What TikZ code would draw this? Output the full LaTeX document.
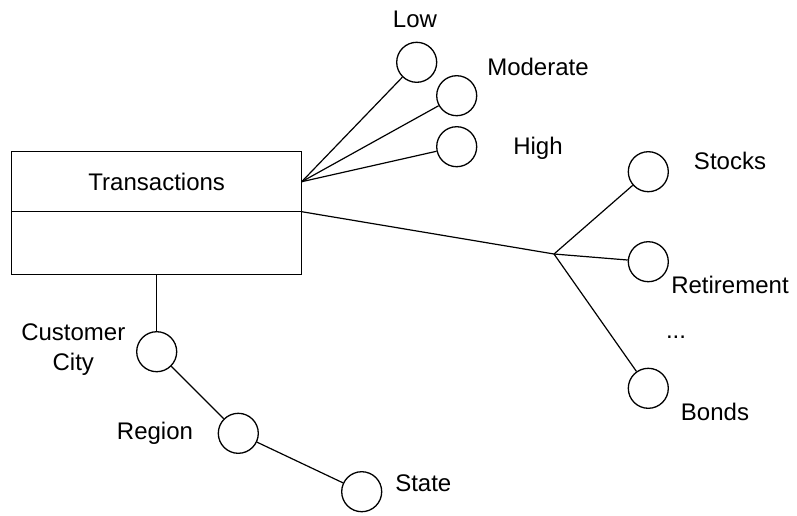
\documentclass[tikz,border=0pt]{standalone}
\usepackage{fontspec}
\setmainfont{Liberation Sans}
\begin{document}
\begin{tikzpicture}[x=1pt,y=-1pt,
  every node/.style={font=\fontsize{24}{30}\selectfont},
  attr/.style={draw, circle, minimum size=40pt, inner sep=0pt, line width=1.3pt},
  box/.style={draw, rectangle, minimum width=290pt, inner sep=0pt, outer sep=0pt, line width=1.3pt},
  link/.style={line width=1.2pt},
  lbl/.style={inner sep=0pt, anchor=center, align=center}]
\useasboundingbox (0,0) rectangle (797,515);

% entity box with header and empty body
\node[box, minimum height=60pt] (trans) at (156.7,181.7) {Transactions};
\node[box, minimum height=62.6pt, anchor=north] (transbody) at (trans.south) {};

% attribute circles
\node[attr] (low) at (416.7,62.3) {};
\node[attr] (mod) at (456.7,95.7) {};
\node[attr] (high) at (456.7,146.7) {};
\node[attr] (stocks) at (648.3,171.7) {};
\node[attr] (ret) at (648.3,261.7) {};
\node[attr] (bonds) at (648.3,388.3) {};
\node[attr] (city) at (156.7,351.7) {};
\node[attr] (region) at (238.3,433.3) {};
\node[attr] (state) at (361.7,491.7) {};

% labels
\node[lbl] (lowl) at (415,19) {Low};
\node[lbl] (modl) at (538,67) {Moderate};
\node[lbl] (highl) at (538,148) {High};
\node[lbl] (stocksl) at (730,160.7) {Stocks};
\node[lbl] (retl) at (730,285) {Retirement};
\node[lbl] (dotsl) at (676,337) {...};
\node[lbl] (bondsl) at (715,411.7) {Bonds};
\node[lbl] (cityl) at (73.3,350) {Customer\\City};
\node[lbl] (regionl) at (155,433) {Region};
\node[lbl] (statel) at (423.3,483.3) {State};

% connectors
\coordinate (fan) at (trans.east);
\coordinate (split) at (554,254);
\draw[link] (fan) -- (low);
\draw[link] (fan) -- (mod);
\draw[link] (fan) -- (high);
\draw[link] (trans.south east) -- (split);
\draw[link] (split) -- (stocks);
\draw[link] (split) -- (ret);
\draw[link] (split) -- (bonds);
\draw[link] (transbody.south) -- (city);
\draw[link] (city) -- (region);
\draw[link] (region) -- (state);
\end{tikzpicture}
\end{document}
